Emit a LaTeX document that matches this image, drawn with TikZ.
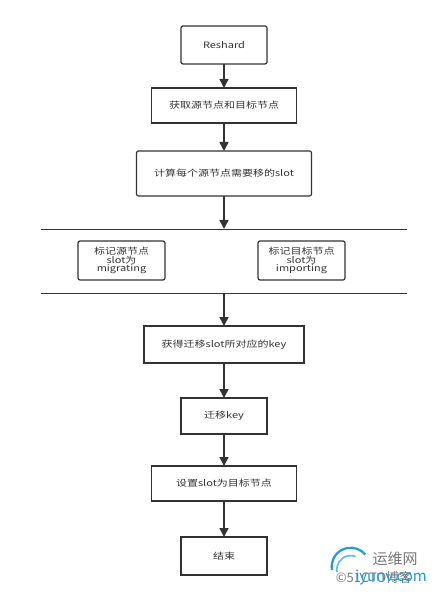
\documentclass[tikz,border=0pt]{standalone}
\usepackage{fontspec}
\setmainfont[FakeStretch=1.25]{Noto Sans CJK SC}
\newfontfamily\markfont{Noto Sans CJK SC}
\usetikzlibrary{arrows.meta,positioning,calc}
\definecolor{LineGray}{HTML}{333333}
\definecolor{MarkBlue}{HTML}{1E9BE0}
\definecolor{MarkGray}{HTML}{777777}
\tikzset{box/.style={draw=LineGray,line width=1.2pt,rectangle,align=center,inner sep=0pt,outer sep=0pt,text=LineGray,font=\fontsize{8.8}{8.8}\selectfont},
rbox/.style={box,rounded corners=2pt},
arr/.style={-{Triangle[length=9pt,width=9pt]},line width=1.5pt,LineGray},
bar/.style={line width=0.9pt,LineGray}}

\begin{document}
\begin{tikzpicture}[x=1pt,y=-1pt]
\useasboundingbox (0,0) rectangle (434,593);

% top part
\node[rbox,minimum width=86pt,minimum height=38pt] (a) at (224,45) {Reshard};
\node[box,below=24pt of a,minimum width=145pt,minimum height=35pt] (b) {获取源节点和目标节点};
\node[rbox,below=28pt of b,minimum width=175pt,minimum height=45pt] (c) {计算每个源节点需要移的slot};

% parallel part
\coordinate[below=33pt of c] (fork);
\coordinate[left=183pt of fork] (forkl);
\coordinate[right=183pt of fork] (forkr);
\coordinate[below=64pt of fork] (join);
\coordinate[left=183pt of join] (joinl);
\coordinate[right=183pt of join] (joinr);
\node[rbox,below=12pt of fork,xshift=-102.5pt,minimum width=87pt,minimum height=39pt] (m) {标记源节点\\slot为\\migrating};
\node[rbox,below=12pt of fork,xshift=77.5pt,minimum width=87pt,minimum height=39pt] (i) {标记目标节点\\slot为\\importing};

% bottom part
\node[box,below=33pt of join,minimum width=160pt,minimum height=37pt] (d) {获得迁移slot所对应的key};
\node[box,below=35pt of d,minimum width=86pt,minimum height=36pt] (e) {迁移key};
\node[box,below=32pt of e,minimum width=145pt,minimum height=35pt] (f) {设置slot为目标节点};
\node[box,below=36pt of f,minimum width=86pt,minimum height=38pt] (g) {结束};

% arrows
\draw[arr] (a) -- (b);
\draw[arr] (b) -- (c);
\draw[arr] (c) -- (fork);
\draw[bar] (forkl) -- (forkr);
\draw[bar] (joinl) -- (joinr);
\draw[arr] (join) -- (d);
\draw[arr] (d) -- (e);
\draw[arr] (e) -- (f);
\draw[arr] (f) -- (g);

% watermark
\draw[MarkBlue,line width=2.2pt] (332,570) arc[start angle=190,end angle=40,radius=19pt];
\draw[MarkBlue!70,line width=1.6pt] (337,572) arc[start angle=190,end angle=70,radius=14pt];
\node[text=MarkGray,font=\markfont\fontsize{15}{15}\selectfont,inner sep=0pt] (wm1) at (395,559) {运维网};
\node[text=MarkGray,font=\markfont\fontsize{13}{13}\selectfont,inner sep=0pt] (wm2) at (374,577) {©51CTO博客};
\node[text=MarkBlue,font=\markfont\fontsize{15}{15}\selectfont,inner sep=0pt] (wm3) at (391,577) {iyunv.com};
\end{tikzpicture}
\end{document}
